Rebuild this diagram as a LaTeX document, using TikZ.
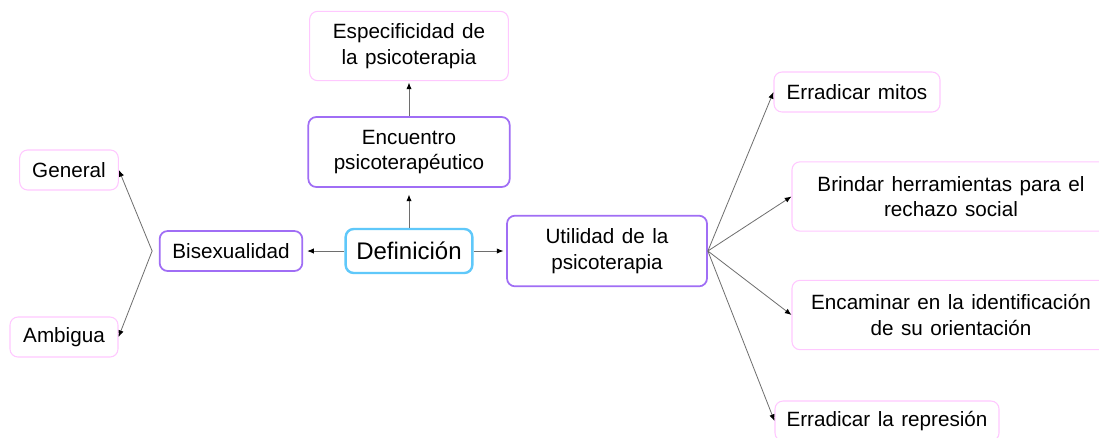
\documentclass[tikz,border=0pt]{standalone}
\usepackage{fontspec}
\setmainfont[WordSpace=1.3]{Liberation Sans}
\usepackage{tikz}
\usetikzlibrary{arrows.meta}
\definecolor{mapacyan}{RGB}{95,200,250}
\definecolor{mapamorado}{RGB}{160,110,245}
\definecolor{maparosa}{RGB}{255,200,255}
\definecolor{mapalinea}{RGB}{110,110,110}
\tikzset{
  caja/.style={rounded corners=6pt,align=center,inner sep=2pt,font=\fontsize{15.5}{19}\selectfont},
  principal/.style={caja,draw=mapacyan,line width=1.8pt,font=\fontsize{18}{22}\selectfont},
  rama/.style={caja,draw=mapamorado,line width=1.3pt},
  hoja/.style={caja,draw=maparosa,line width=0.8pt},
  flecha/.style={draw=mapalinea,line width=0.6pt,-{Latex[length=5pt,width=4pt,color=black]}}
}

\begin{document}
\begin{tikzpicture}[x=0.75pt,y=-0.75pt]
\clip (0,0) rectangle (1099,437);
\fill[white] (0,0) rectangle (1099,437);
% centro del mapa
\node [principal,minimum width=95pt,minimum height=33pt] (definicion) at (409,251) {Definición};
\node [rama,minimum width=151pt,minimum height=52.5pt] (encuentro) at (409,152) {Encuentro\\psicoterapéutico};
\node [hoja,minimum width=149pt,minimum height=52pt] (especificidad) at (409,46) {Especificidad de\\la psicoterapia};
\node [rama,minimum width=107pt,minimum height=30pt] (bisexualidad) at (231,251) {Bisexualidad};
\node [hoja,minimum width=74pt,minimum height=30pt] (general) at (69,170) {General};
\node [hoja,minimum width=81pt,minimum height=30pt] (ambigua) at (64,337) {Ambigua};
\node [rama,minimum width=150pt,minimum height=53pt] (utilidad) at (607,251) {Utilidad de la\\psicoterapia};
% ramas de la utilidad
\node [hoja,minimum width=124.5pt,minimum height=30pt] (mitos) at (857,92) {Erradicar mitos};
\node [hoja,minimum width=238.5pt,minimum height=52pt] (herramientas) at (951,196.5) {Brindar herramientas para el\\rechazo social};
\node [hoja,minimum width=238.5pt,minimum height=52pt] (orientacion) at (951,315) {Encaminar en la identificación\\de su orientación};
\node [hoja,minimum width=168pt,minimum height=30pt] (represion) at (887,421) {Erradicar la represión};
\coordinate (bisfan) at ([xshift=-5pt]bisexualidad.west);

\draw [flecha,shorten >=3pt] (definicion) -- (bisexualidad);
\draw [flecha,shorten >=2pt] (definicion) -- (utilidad);
\draw [flecha,shorten >=5pt] (definicion) -- (encuentro);
\draw [flecha,shorten >=1pt] (encuentro) -- (especificidad);
\draw [flecha] (bisfan) -- (general.east);
\draw [flecha] (bisfan) -- (ambigua.east);
\draw [flecha] (utilidad.east) -- (mitos.west);
\draw [flecha] (utilidad.east) -- (herramientas.west);
\draw [flecha] (utilidad.east) -- (orientacion.west);
\draw [flecha] (utilidad.east) -- (represion.west);
\end{tikzpicture}
\end{document}
